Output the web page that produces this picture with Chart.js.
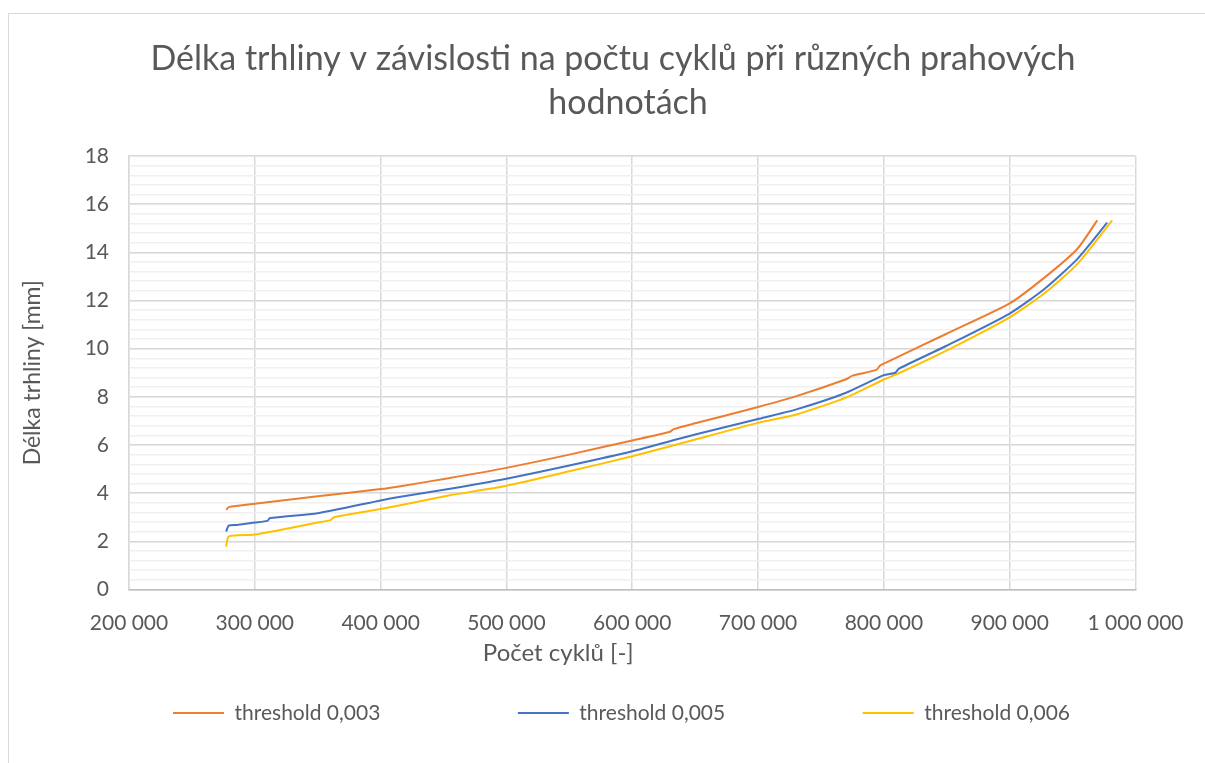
<!DOCTYPE html>
<html><head><meta charset="utf-8">
<script src="https://cdn.jsdelivr.net/npm/chart.js@4.4.0/dist/chart.umd.min.js"></script>
<style>
html,body{margin:0;padding:0;background:#fff;overflow:hidden;}
#frame{position:absolute;left:8px;top:13px;width:1400px;height:1000px;border:1.5px solid #d9d9d9;box-sizing:border-box;}
#wrap{position:absolute;left:0;top:0;width:1205px;height:763px;}
</style></head><body>
<div id="frame"></div>
<div id="wrap"><canvas id="c" width="1205" height="763"></canvas></div>
<script>
const chartTitle = ['Délka trhliny v závislosti na počtu cyklů při různých prahových', 'hodnotách'];
const xTitle = 'Počet cyklů [-]';
const yTitle = 'Délka trhliny [mm]';
const seriesNames = ['threshold 0,003', 'threshold 0,005', 'threshold 0,006'];
const seriesColors = ['#ED7D31', '#4472C4', '#FFC000'];
const xTicks = [200000, 300000, 400000, 500000, 600000, 700000, 800000, 900000, 1000000];
const yTicks = [0, 2, 4, 6, 8, 10, 12, 14, 16, 18];

const cycles003 = [277200, 279300, 300000, 350000, 400000, 414600, 454000, 500000, 550000, 600000, 630000, 633000, 650000, 700000, 730500, 770000, 775000, 794000, 797000, 800000, 849000, 900000, 927600, 953900, 969600];
const crack003  = [3.31, 3.42, 3.56, 3.87, 4.17, 4.28, 4.62, 5.05, 5.60, 6.19, 6.55, 6.66, 6.90, 7.58, 8.03, 8.73, 8.88, 9.12, 9.30, 9.38, 10.60, 11.88, 12.95, 14.15, 15.33];

const cycles005 = [277200, 279300, 285500, 300000, 310000, 312100, 350000, 400000, 414600, 454000, 500000, 550000, 600000, 650000, 700000, 730500, 770000, 800000, 809000, 812000, 849000, 900000, 927600, 953900, 977500];
const crack005  = [2.41, 2.65, 2.68, 2.78, 2.85, 2.97, 3.17, 3.70, 3.84, 4.17, 4.60, 5.15, 5.74, 6.44, 7.08, 7.48, 8.17, 8.90, 9.00, 9.17, 10.10, 11.46, 12.48, 13.73, 15.23];

const cycles006 = [277200, 279300, 300000, 350000, 359600, 363000, 400000, 414600, 454000, 500000, 550000, 600000, 650000, 700000, 730500, 770000, 800000, 811800, 849000, 900000, 927600, 953900, 981500];
const crack006  = [1.78, 2.20, 2.28, 2.78, 2.87, 3.00, 3.34, 3.49, 3.90, 4.31, 4.91, 5.53, 6.23, 6.92, 7.27, 7.97, 8.72, 8.98, 9.90, 11.30, 12.30, 13.52, 15.33];

const allX = [cycles003, cycles005, cycles006];
const allY = [crack003, crack005, crack006];

const FONT = 'Lato';
const TXT = '#595959';
const LEGEND_PAD = 137.5;

function fmt(v){ return String(v).replace(/\B(?=(\d{3})+(?!\d))/g, ' '); }

const datasets = seriesNames.map((name, i) => ({
  label: name,
  data: allX[i].map((x, j) => ({x: x, y: allY[i][j]})),
  borderColor: seriesColors[i],
  backgroundColor: seriesColors[i],
  borderWidth: 2,
  pointRadius: 0,
  tension: 0.2,
  fill: false
}));

const layoutPlugin = {
  id: 'layoutTweak',
  beforeLayout(chart){
    const l = chart.legend;
    if (l && !l._patched){
      const orig = l.fit.bind(l);
      l.fit = function(){ orig(); this.height = 40; };
      l._patched = true;
    }
    const sx = chart.scales.x;
    if (sx && !sx._patchedTitle){
      const od = sx.drawTitle.bind(sx);
      sx.drawTitle = function(){
        const L = this.left, R = this.right;
        this.left = L - 74; this.right = R - 74;
        od();
        this.left = L; this.right = R;
      };
      sx._patchedTitle = true;
    }
  },
  afterLayout(chart){
    chart.boxes.forEach(b => {
      if (b.options && b.options.text === chartTitle[0]) { b.left += 37.5; b.right += 37.5; }
      if (b.options && b.options.text === chartTitle[1]) { b.left += 52.5; b.right += 52.5; }
    });
    const l = chart.legend;
    if (l){
      l.left = 173 - LEGEND_PAD;
      l.right = 5000;
      l.width = l.right - l.left;
      l.top = 713 - 10.5 - LEGEND_PAD;
      l.bottom = 763;
      l.height = l.bottom - l.top;
    }
  }
};

new Chart(document.getElementById('c'), {
  type: 'line',
  data: { datasets },
  plugins: [layoutPlugin],
  options: {
    responsive: false,
    animation: false,
    layout: { autoPadding: false, padding: { left: 10, right: 64, top: 0, bottom: 0 } },
    plugins: {
      title: {
        display: true,
        text: chartTitle[0],
        color: TXT,
        font: { family: FONT, size: 34, weight: 'normal', lineHeight: 1.265 },
        padding: { top: 38, bottom: 0 }
      },
      subtitle: {
        display: true,
        text: chartTitle[1],
        color: TXT,
        font: { family: FONT, size: 34, weight: 'normal', lineHeight: 1.265 },
        padding: { top: 1, bottom: 31 }
      },
      legend: {
        position: 'bottom',
        align: 'start',
        labels: {
          color: TXT,
          font: { family: FONT, size: 21 },
          boxWidth: 51,
          boxHeight: 2,
          padding: LEGEND_PAD,
          generateLabels(chart){
            const items = Chart.defaults.plugins.legend.labels.generateLabels(chart);
            items.forEach(it => { it.lineWidth = 0; it.fillStyle = it.strokeStyle; });
            return items;
          }
        }
      },
      tooltip: { enabled: false }
    },
    scales: {
      x: {
        type: 'linear',
        min: xTicks[0],
        max: xTicks[xTicks.length - 1],
        afterBuildTicks(s){ s.ticks = xTicks.map(v => ({value: v})); },
        afterFit(s){ s.height = 133.5; },
        ticks: { color: TXT, font: { family: FONT, size: 21 }, padding: 21.5, maxRotation: 0, callback: v => fmt(v) },
        grid: { color: '#d9d9d9', lineWidth: 1.5, drawTicks: false },
        border: { display: true, color: '#bfbfbf', width: 1.5 },
        title: { display: true, text: xTitle, color: TXT, font: { family: FONT, size: 24 }, padding: { top: 0, bottom: 55 } }
      },
      y2: {
        type: 'linear',
        position: 'left',
        min: 0, max: 18,
        z: -1,
        ticks: { display: false, stepSize: 0.4 },
        grid: { color: '#f0f0f0', lineWidth: 1.5, drawTicks: false },
        border: { display: false }
      },
      y: {
        type: 'linear',
        position: 'left',
        min: yTicks[0],
        max: yTicks[yTicks.length - 1],
        afterBuildTicks(s){ s.ticks = yTicks.map(v => ({value: v})); },
        afterFit(s){ s.width = 119; },
        ticks: { color: TXT, font: { family: FONT, size: 21 }, padding: 20 },
        grid: { color: '#d9d9d9', lineWidth: 1.5, drawTicks: false },
        border: { display: true, color: '#d9d9d9', width: 1.5 },
        title: { display: true, text: yTitle, color: TXT, font: { family: FONT, size: 23 }, padding: { top: 9, bottom: 0 } }
      }
    }
  }
});
</script>
</body></html>
